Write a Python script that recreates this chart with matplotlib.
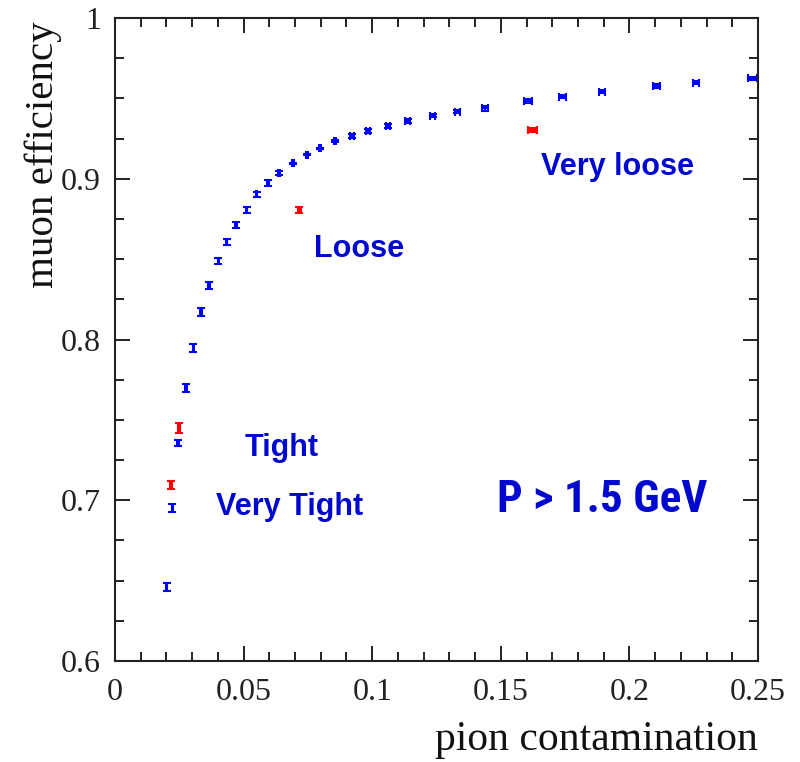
import matplotlib
matplotlib.use("Agg")
import matplotlib.pyplot as plt
from matplotlib import font_manager
from matplotlib.ticker import MultipleLocator

# muon efficiency vs pion contamination, P > 1.5 GeV
pion_cont = [0.0201, 0.0223, 0.0246, 0.0276, 0.0305, 0.0334, 0.0365, 0.0402,
             0.0434, 0.0470, 0.0512, 0.0551, 0.0594, 0.0636, 0.0691, 0.0745,
             0.0797, 0.0855, 0.0920, 0.0985, 0.1063, 0.1138, 0.1235, 0.1331,
             0.1439, 0.1605, 0.1741, 0.1895, 0.2106, 0.2259, 0.2479]
muon_eff = [0.6462, 0.6950, 0.7358, 0.7700, 0.7945, 0.8173, 0.8335, 0.8488,
            0.8608, 0.8712, 0.8806, 0.8903, 0.8972, 0.9038, 0.9096, 0.9148,
            0.9189, 0.9235, 0.9266, 0.9297, 0.9328, 0.9361, 0.9392, 0.9417,
            0.9438, 0.9484, 0.9511, 0.9541, 0.9577, 0.9598, 0.9625]
pion_err = [0.0003, 0.0003, 0.0003, 0.0003, 0.0003, 0.0003, 0.0003, 0.0003,
            0.0003, 0.0003, 0.0003, 0.0003, 0.0003, 0.0004, 0.0004, 0.0004,
            0.0002, 0.0005, 0.0008, 0.0008, 0.0008, 0.0009, 0.0010, 0.0011,
            0.0013, 0.0015, 0.0013, 0.0012, 0.0014, 0.0013, 0.0018]
muon_err = [0.0025, 0.0025, 0.0020, 0.0025, 0.0025, 0.0025, 0.0022, 0.0018,
            0.0020, 0.0018, 0.0018, 0.0015, 0.0018, 0.0012, 0.0003, 0.0003,
            0.0002, 0.0005, 0.0012, 0.0012, 0.0012, 0.0012, 0.0010, 0.0010,
            0.0015, 0.0015, 0.0010, 0.0010, 0.0010, 0.0010, 0.0010]

# selector working points (very tight, tight, loose, very loose)
sel_cont = [0.0218, 0.0249, 0.0717, 0.1623]
sel_eff = [0.7095, 0.7448, 0.8806, 0.9303]
sel_cont_err = [0.0004, 0.0004, 0.0005, 0.0018]
sel_eff_err = [0.0025, 0.0030, 0.0018, 0.0010]

blue = "#0000ff"
red = "#ff0000"
txt_blue = "#0008d0"

# look for a condensed bold sans for the momentum label
names = {f.name for f in font_manager.fontManager.ttflist}
cond = [n for n in ["Liberation Sans Narrow", "DejaVu Sans Condensed",
                    "Roboto Condensed", "Open Sans Condensed"] if n in names]

fig = plt.figure(figsize=(8, 7.62), dpi=100)
ax = fig.add_axes([0.14375, 0.1325, 0.80375, 0.8439])

ax.errorbar(pion_cont, muon_eff, xerr=pion_err, yerr=muon_err, fmt="none",
            ecolor=blue, elinewidth=1.5, capsize=3, capthick=1.5)
ax.errorbar(sel_cont, sel_eff, xerr=sel_cont_err, yerr=sel_eff_err, fmt="none",
            ecolor=red, elinewidth=1.5, capsize=3, capthick=1.5)

ax.set_xlim(0, 0.25)
ax.set_ylim(0.6, 1.0)
ax.xaxis.set_major_locator(MultipleLocator(0.05))
ax.xaxis.set_minor_locator(MultipleLocator(0.01))
ax.yaxis.set_major_locator(MultipleLocator(0.1))
ax.yaxis.set_minor_locator(MultipleLocator(0.025))
ax.set_xticks([0, 0.05, 0.1, 0.15, 0.2, 0.25])
ax.set_xticklabels(["0", "0.05", "0.1", "0.15", "0.2", "0.25"])
ax.set_yticks([0.6, 0.7, 0.8, 0.9, 1.0])
ax.set_yticklabels(["0.6", "0.7", "0.8", "0.9", "1"])

ax.tick_params(which="both", direction="in", top=True, right=True,
               width=1.4, color="#222222")
ax.tick_params(which="major", length=11)
ax.tick_params(which="minor", length=6.5)
ax.tick_params(axis="x", which="major", pad=12)
ax.tick_params(axis="y", which="major", pad=10)
for lbl in ax.get_xticklabels() + ax.get_yticklabels():
    lbl.set_fontfamily("Liberation Serif")
    lbl.set_fontsize(23)
    lbl.set_color("#222222")
for s in ax.spines.values():
    s.set_linewidth(1.5)
    s.set_color("#222222")

ax.set_xlabel("pion contamination", fontfamily="Liberation Serif", fontsize=30,
              loc="right", color="#111111", labelpad=10)
ax.set_ylabel("muon efficiency", fontfamily="Liberation Serif", fontsize=29.5,
              loc="top", color="#111111")
ax.yaxis.set_label_coords(-0.082, 0.995)

lab = dict(color=txt_blue, fontsize=22, fontweight="bold",
           fontfamily="Liberation Sans", ha="center", va="center")
ax.text(0.1952, 0.9073, "Very loose", **lab)
ax.text(0.0949, 0.8563, "Loose", **lab)
ax.text(0.0649, 0.7325, "Tight", **lab)
ax.text(0.0680, 0.6958, "Very Tight", **lab)
if cond:
    ax.text(0.1893, 0.7002, "P > 1.5 GeV", color=txt_blue, fontsize=32.5,
            fontweight="bold", fontfamily=cond[0], fontstretch="condensed",
            ha="center", va="center")
else:
    ax.text(0.1893, 0.7002, "P > 1.5 GeV", color=txt_blue, fontsize=30,
            fontweight="bold", fontfamily="Liberation Sans",
            ha="center", va="center")

fig.savefig("out.png", dpi=100)
